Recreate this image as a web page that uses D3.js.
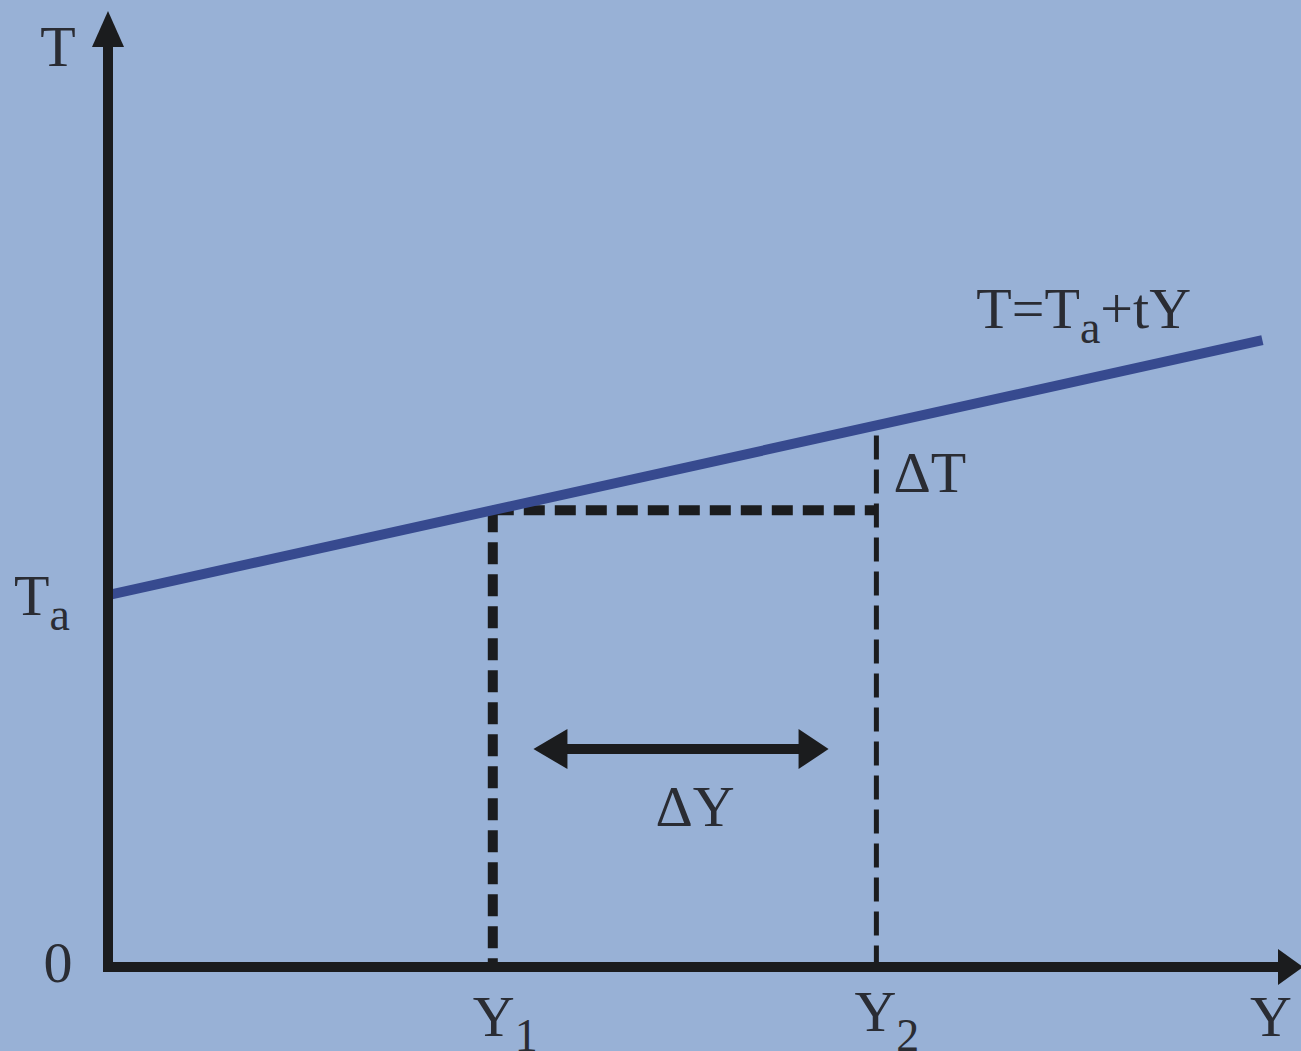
<!DOCTYPE html>
<html>
<head>
<meta charset="utf-8">
<script src="https://cdn.jsdelivr.net/npm/d3@7"></script>
<style>
  html, body { margin: 0; padding: 0; background: #98b1d6; }
  svg { display: block; }
  .lbl { font-family: "Liberation Serif", "Times New Roman", serif; fill: #2a2c33; }
</style>
</head>
<body>
<div id="chart"></div>
<script>
// line T = Ta + t*Y, in chart units (both axes 0..100)
let Ta = 38.9;
let slope = 0.276;
let lineEnd = 96.6;
let Y1 = 32.2, Y2 = 64.3;
let deltaArrow = [35.6, 60.3];   // ΔY arrow from..to
let deltaArrowT = 22.8;          // height of the ΔY arrow

let width = 1301, height = 1051;
let bg = "#98b1d6", ink = "#1b1c1e", lineColor = "#374a8f";

let svg = d3.select("#chart").append("svg")
  .attr("width", width).attr("height", height);

svg.append("rect").attr("width", width).attr("height", height).attr("fill", bg);

let x = d3.scaleLinear().domain([0, 100]).range([108, 1303]);
let y = d3.scaleLinear().domain([0, 100]).range([967, 11]);

let line = d3.line().x(d => x(d[0])).y(d => y(d[1]));
let T = v => Ta + slope * v;

// the dashed guides
svg.append("line")
  .attr("x1", x(Y1)).attr("x2", x(Y1))
  .attr("y1", y(T(Y1))).attr("y2", y(0))
  .attr("stroke", ink).attr("stroke-width", 10).attr("stroke-dasharray", "22,10");
svg.append("line")
  .attr("x1", x(Y1)).attr("x2", x(Y2))
  .attr("y1", y(T(Y1))).attr("y2", y(T(Y1)))
  .attr("stroke", ink).attr("stroke-width", 10).attr("stroke-dasharray", "21,10");
svg.append("line")
  .attr("x1", x(Y2)).attr("x2", x(Y2))
  .attr("y1", y(T(Y2))).attr("y2", y(0))
  .attr("stroke", ink).attr("stroke-width", 5).attr("stroke-dasharray", "24,10")
  .attr("stroke-dashoffset", -10);

// T = Ta + tY
svg.append("path")
  .attr("d", line([[0, T(0)], [lineEnd, T(lineEnd)]]))
  .attr("fill", "none").attr("stroke", lineColor).attr("stroke-width", 10);

// axes, drawn with d3 axes without ticks
let xAxis = svg.append("g")
  .attr("transform", "translate(0," + y(0) + ")")
  .call(d3.axisBottom(x).tickValues([]).tickSizeOuter(0));
let yAxis = svg.append("g")
  .attr("transform", "translate(" + x(0) + ",0)")
  .call(d3.axisLeft(y).tickValues([]).tickSizeOuter(0));
[xAxis, yAxis].forEach(a => a.select(".domain")
  .attr("stroke", ink).attr("stroke-width", 10).attr("stroke-linecap", "square"));
xAxis.select(".domain").attr("d", "M" + x(0) + ",0H" + (x(100) - 20));
yAxis.select(".domain").attr("d", "M0," + y(0) + "V" + (y(100) + 20));

// arrow heads
let tipY = [x(0), y(100)], tipX = [x(100), y(0)];
svg.append("path")
  .attr("d", "M" + tipY[0] + "," + tipY[1] + "L" + (tipY[0] - 16) + "," + (tipY[1] + 36) +
             "L" + (tipY[0] + 16) + "," + (tipY[1] + 36) + "Z")
  .attr("fill", ink);
svg.append("path")
  .attr("d", "M" + tipX[0] + "," + tipX[1] + "L" + (tipX[0] - 25) + "," + (tipX[1] - 18) +
             "L" + (tipX[0] - 25) + "," + (tipX[1] + 18) + "Z")
  .attr("fill", ink);

// ΔY double arrow
let ay = y(deltaArrowT), ax0 = x(deltaArrow[0]), ax1 = x(deltaArrow[1]);
svg.append("line")
  .attr("x1", ax0 + 20).attr("x2", ax1 - 20).attr("y1", ay).attr("y2", ay)
  .attr("stroke", ink).attr("stroke-width", 10);
svg.append("path")
  .attr("d", "M" + ax0 + "," + ay + "L" + (ax0 + 34) + "," + (ay - 20) + "L" + (ax0 + 34) + "," + (ay + 20) + "Z")
  .attr("fill", ink);
svg.append("path")
  .attr("d", "M" + ax1 + "," + ay + "L" + (ax1 - 30) + "," + (ay - 20) + "L" + (ax1 - 30) + "," + (ay + 20) + "Z")
  .attr("fill", ink);

// labels
let big = 58, sub = 46;
function label(px, py, parts, anchor) {
  let t = svg.append("text").attr("class", "lbl")
    .attr("x", px).attr("y", py).attr("font-size", big)
    .attr("text-anchor", anchor || "start");
  parts.forEach(p => {
    let s = t.append("tspan").text(p.s);
    if (p.sub) s.attr("font-size", sub).attr("dy", p.dy || 15);
    else if (p.back) s.attr("dy", -p.back);
  });
  return t;
}
label(x(0) - 50, y(100) + 55, [{s: "T"}], "middle");
label(x(0) - 50, y(0) + 15, [{s: "0"}], "middle");
label(x(0) - 94, y(T(0)) + 20, [{s: "T"}, {s: "a", sub: true}]);
label(x(lineEnd) - 286, y(T(lineEnd)) - 12, [{s: "T=T"}, {s: "a", sub: true}, {s: "+tY", back: 15}]);
label(x(Y2) + 17, y(T(Y1)) - 18, [{s: "ΔT"}]);
label((ax0 + ax1) / 2 + 14, ay + 77, [{s: "ΔY"}], "middle");
label(x(Y1) - 20, y(0) + 69, [{s: "Y"}, {s: "1", sub: true, dy: 15}]);
label(x(Y2) - 22, y(0) + 64, [{s: "Y"}, {s: "2", sub: true, dy: 20}]);
label(x(100) - 32, y(0) + 69, [{s: "Y"}], "middle");
</script>
</body>
</html>
